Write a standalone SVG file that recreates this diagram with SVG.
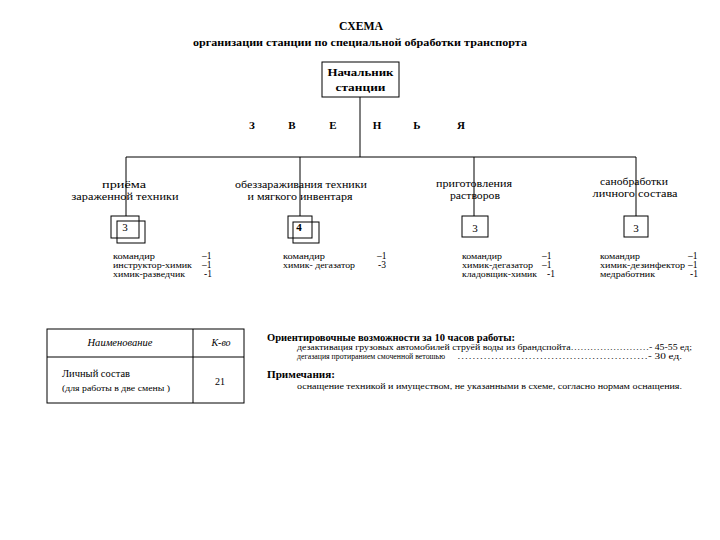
<svg xmlns="http://www.w3.org/2000/svg" width="720" height="540" viewBox="0 0 720 540">
<style>
text{font-family:"Liberation Serif","Times New Roman","DejaVu Serif",serif;fill:#000}
.b{font-weight:bold}
.i{font-style:italic}
.m{text-anchor:middle}
.box{fill:none;stroke:#000;stroke-width:1}
.ln{stroke:#000;stroke-width:1;fill:none}
.lbl{font-size:10.5px}
.st{font-size:8px}
.n{font-size:9.5px}
.nt{font-size:8px}
</style>
<rect width="720" height="540" fill="#fff"/>
<g id="title">
<text class="b m" x="361" y="30" font-size="13" textLength="44" lengthAdjust="spacingAndGlyphs">СХЕМА</text>
<text class="b m" x="360" y="46" font-size="11" textLength="334" lengthAdjust="spacingAndGlyphs">организации станции по специальной обработки транспорта</text>
</g>
<g id="connectors">
<path class="ln" d="M360,97V157M126,157H636M126,157V216M300,157V216M474,157V216M636,157V216"/>
</g>
<g id="chief">
<rect class="box" x="322" y="62" width="77" height="35"/>
<text class="b m" x="360.5" y="76" font-size="11" textLength="66" lengthAdjust="spacingAndGlyphs">Начальник</text>
<text class="b m" x="360.5" y="91" font-size="11" textLength="50" lengthAdjust="spacingAndGlyphs">станции</text>
</g>
<g id="zveno" class="b" font-size="11">
<text class="m" x="252" y="129">З</text>
<text class="m" x="292" y="129">В</text>
<text class="m" x="333" y="129">Е</text>
<text class="m" x="377" y="129">Н</text>
<text class="m" x="417" y="129">Ь</text>
<text class="m" x="461" y="129">Я</text>
</g>
<g id="node-priema">
<text class="lbl m" x="124" y="188" textLength="44" lengthAdjust="spacingAndGlyphs">приёма</text>
<text class="lbl m" x="125" y="200" textLength="107" lengthAdjust="spacingAndGlyphs">зараженной техники</text>
<rect class="box" x="111" y="216" width="28" height="22"/>
<rect class="box" x="117" y="221" width="28" height="22"/>
<text class="m" x="125" y="231" font-size="11">3</text>
<g class="st">
<text x="113" y="259" textLength="42" lengthAdjust="spacingAndGlyphs">командир</text>
<text x="113" y="268" textLength="79" lengthAdjust="spacingAndGlyphs">инструктор-химик</text>
<text x="113" y="277" textLength="72" lengthAdjust="spacingAndGlyphs">химик-разведчик</text>
<text class="n" x="202" y="259">–1</text>
<text class="n" x="202" y="268">–1</text>
<text class="n" x="204" y="277">-1</text>
</g>
</g>
<g id="node-obezzar">
<text class="lbl m" x="301" y="188" textLength="132" lengthAdjust="spacingAndGlyphs">обеззараживания техники</text>
<text class="lbl m" x="300" y="200" textLength="105" lengthAdjust="spacingAndGlyphs">и мягкого инвентаря</text>
<rect class="box" x="288" y="216" width="24" height="22"/>
<rect class="box" x="293" y="222" width="26" height="21"/>
<text class="b m" x="299" y="231" font-size="11">4</text>
<g class="st">
<text x="283" y="259" textLength="42" lengthAdjust="spacingAndGlyphs">командир</text>
<text x="283" y="268" textLength="72" lengthAdjust="spacingAndGlyphs">химик- дегазатор</text>
<text class="n" x="377" y="259">–1</text>
<text class="n" x="378" y="268">-3</text>
</g>
</g>
<g id="node-prigot">
<text class="lbl m" x="474" y="187" textLength="76" lengthAdjust="spacingAndGlyphs">приготовления</text>
<text class="lbl m" x="475" y="199" textLength="50" lengthAdjust="spacingAndGlyphs">растворов</text>
<rect class="box" x="462" y="216" width="26" height="21"/>
<text class="m" x="475" y="232" font-size="11">3</text>
<g class="st">
<text x="462" y="259" textLength="40" lengthAdjust="spacingAndGlyphs">командир</text>
<text x="462" y="268" textLength="71" lengthAdjust="spacingAndGlyphs">химик-дегазатор</text>
<text x="462" y="277" textLength="75" lengthAdjust="spacingAndGlyphs">кладовщик-химик</text>
<text class="n" x="542" y="259">–1</text>
<text class="n" x="542" y="268">–1</text>
<text class="n" x="547" y="277">-1</text>
</g>
</g>
<g id="node-sanobr">
<text class="lbl m" x="634" y="185" textLength="68" lengthAdjust="spacingAndGlyphs">санобработки</text>
<text class="lbl m" x="635" y="197" textLength="85" lengthAdjust="spacingAndGlyphs">личного состава</text>
<rect class="box" x="624" y="216" width="24" height="21"/>
<text class="m" x="636" y="232" font-size="11">3</text>
<g class="st">
<text x="600" y="259" textLength="40" lengthAdjust="spacingAndGlyphs">командир</text>
<text x="600" y="268" textLength="85" lengthAdjust="spacingAndGlyphs">химик-дезинфектор</text>
<text x="600" y="277" textLength="55" lengthAdjust="spacingAndGlyphs">медработник</text>
<text class="n" x="688" y="259">–1</text>
<text class="n" x="688" y="268">–1</text>
<text class="n" x="690" y="277">-1</text>
</g>
</g>
<g id="table">
<rect class="box" x="47" y="329" width="197" height="74"/>
<path class="ln" d="M47,357H244M193,329V403"/>
<text class="i m" x="120" y="346" font-size="10" textLength="65" lengthAdjust="spacingAndGlyphs">Наименование</text>
<text class="i m" x="221" y="346" font-size="10">К-во</text>
<text x="62" y="377" font-size="10" textLength="68" lengthAdjust="spacingAndGlyphs">Личный состав</text>
<text x="62" y="391" font-size="9" textLength="108" lengthAdjust="spacingAndGlyphs">(для работы в две смены )</text>
<text class="m" x="220" y="385" font-size="10">21</text>
</g>
<g id="notes">
<text class="b" x="267" y="341" font-size="10" textLength="248" lengthAdjust="spacingAndGlyphs">Ориентировочные возможности за 10 часов работы:</text>
<text class="nt" x="297" y="350" textLength="395" lengthAdjust="spacingAndGlyphs">дезактивация грузовых автомобилей струёй воды из брандспойта……………………- 45-55 ед;</text>
<text class="nt" x="297" y="359" textLength="148" lengthAdjust="spacingAndGlyphs">дегазация протиранием смоченной ветошью</text>
<text class="nt" x="457" y="359" textLength="225" lengthAdjust="spacingAndGlyphs">……………………………………………- 30 ед.</text>
<text class="b" x="267" y="378" font-size="10" textLength="68" lengthAdjust="spacingAndGlyphs">Примечания:</text>
<text class="nt" x="297" y="389" textLength="385" lengthAdjust="spacingAndGlyphs">оснащение техникой и имуществом, не указанными в схеме, согласно нормам оснащения.</text>
</g>
</svg>
